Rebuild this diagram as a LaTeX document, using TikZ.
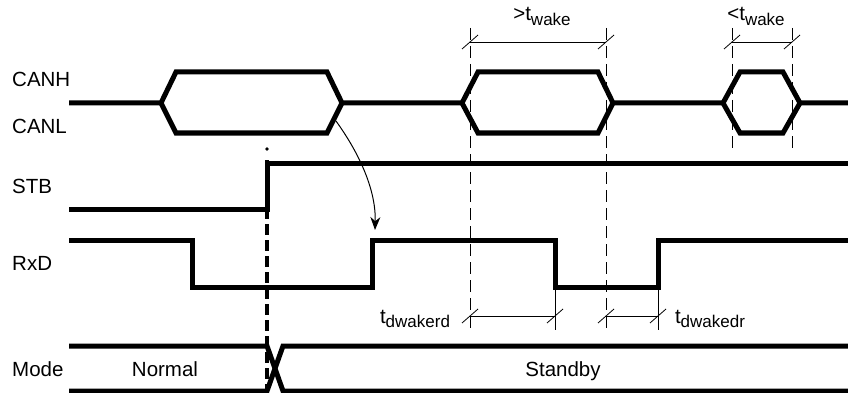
\documentclass[tikz,border=0pt]{standalone}
\usepackage{fontspec}
\setmainfont{Liberation Sans}
\usetikzlibrary{arrows.meta}

\newcommand{\tsub}[1]{t\raisebox{-0.45ex}{\fontsize{17}{17}\selectfont #1}}

\begin{document}
\begin{tikzpicture}[x=1pt, y=-1pt,
		sig_style/.style={draw=black, line width=5pt},
		dim_style/.style={draw=black, line width=0.8pt},
		guide_style/.style={draw=black, line width=0.8pt, dash pattern=on 12pt off 6pt},
		switch_style/.style={draw=black, line width=3.5pt, dash pattern=on 11pt off 5pt},
		label_style/.style={inner sep=0pt, anchor=base west, font=\fontsize{20.5}{24}\selectfont},
		text_style/.style={inner sep=0pt, anchor=base, font=\fontsize{20.5}{24}\selectfont},
		tick_style/.style={draw=black, line width=0.8pt}]
		
		\useasboundingbox (0,0) rectangle (848,393);
		
		% signal names
		\node[label_style] (canh) at (12,87)  {CANH};
		\node[label_style] (canl) at (12,133) {CANL};
		\node[label_style] (stb)  at (12,193) {STB};
		\node[label_style] (rxd)  at (12,270) {RxD};
		\node[label_style] (mode) at (12,376) {Mode};
		
		% CAN bus
		\draw[sig_style] (69,103) -- (161,103) -- (176,72) -- (327,72) -- (342,103)
			-- (462,103) -- (478,72) -- (598,72) -- (613,103)
			-- (723,103) -- (740,72) -- (783,72) -- (800,103) -- (848,103);
		\draw[sig_style] (161,103) -- (176,133) -- (327,133) -- (342,103);
		\draw[sig_style] (462,103) -- (478,133) -- (598,133) -- (613,103);
		\draw[sig_style] (723,103) -- (740,133) -- (783,133) -- (800,103);
		
		% STB
		\draw[sig_style] (69,209) -- (267,209) -- (267,163) -- (848,163);
		
		% RxD
		\draw[sig_style] (69,240) -- (192,240) -- (192,287) -- (372,287) -- (372,240)
			-- (555,240) -- (555,287) -- (658,287) -- (658,240) -- (848,240);
		
		% Mode
		\draw[sig_style] (69,346) -- (267,346) -- (283,391) -- (848,391);
		\draw[sig_style] (69,391) -- (267,391) -- (283,346) -- (848,346);
		\node[text_style] (normal)  at (165,376) {Normal};
		\node[text_style] (standby) at (563,376) {Standby};
		
		% standby switch
		\fill (267,149) circle (1.8pt);
		\draw[switch_style] (267,160) -- (267,391);
		
		% wake-up arrow
		\coordinate (a0) at (336,121);
		\coordinate (a1) at (375,230);
		\draw[line width=1pt, -{Stealth[length=13pt, width=10pt]}] (a0) .. controls (364,160) and (376,195) .. (a1);
		
		% guide lines
		\draw[guide_style] (470,28) -- (470,330);
		\draw[guide_style] (606,28) -- (606,330);
		\draw[guide_style] (732,28) -- (732,148);
		\draw[guide_style] (792,28) -- (792,148);
		\draw[dim_style] (555,290) -- (555,330);
		\draw[dim_style] (658,290) -- (658,330);
		
		% dimensions
		\coordinate (d0) at (470,42);
		\coordinate (d1) at (606,42);
		\coordinate (d2) at (732,42);
		\coordinate (d3) at (792,42);
		\coordinate (d4) at (470,316);
		\coordinate (d5) at (555,316);
		\coordinate (d6) at (606,316);
		\coordinate (d7) at (658,316);
		\draw[dim_style] (d0) -- (d1);
		\draw[dim_style] (d2) -- (d3);
		\draw[dim_style] (d4) -- (d5);
		\draw[dim_style] (d6) -- (d7);
		\foreach \d in {d0,d1,d2,d3,d4,d5,d6,d7}
			\draw[tick_style] ([shift={(-8,7)}]\d) -- ([shift={(8,-7)}]\d);
		
		\node[text_style] (twake1) at (542,21)  {>\tsub{wake}};
		\node[text_style] (twake2) at (756,21)  {<\tsub{wake}};
		\node[text_style] (tdrd)   at (415,323) {\tsub{dwakerd}};
		\node[text_style] (tddr)   at (710,323) {\tsub{dwakedr}};
		
\end{tikzpicture}
\end{document}
